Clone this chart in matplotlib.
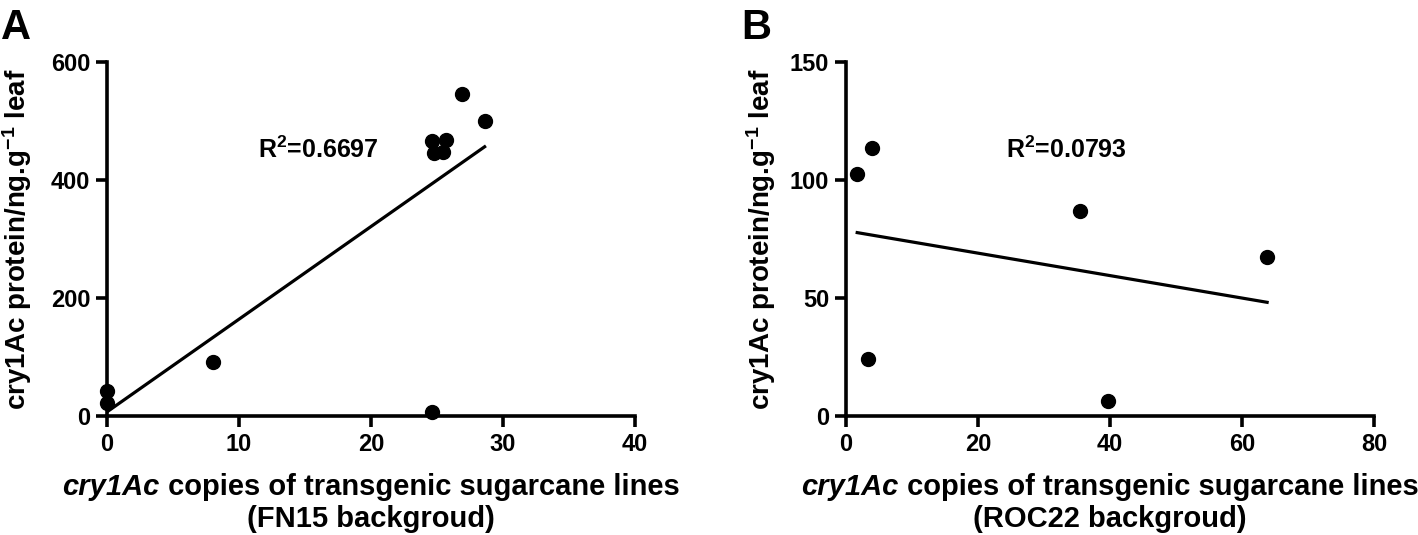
import matplotlib
matplotlib.use("Agg")
import matplotlib.pyplot as plt
import numpy as np

plt.rcParams['font.family'] = ['Liberation Sans', 'DejaVu Sans']
plt.rcParams['font.weight'] = 'bold'
plt.rcParams['mathtext.fontset'] = 'custom'
plt.rcParams['mathtext.rm'] = 'Liberation Sans:bold'
plt.rcParams['mathtext.it'] = 'Liberation Sans:italic:bold'
plt.rcParams['mathtext.bf'] = 'Liberation Sans:bold'

# panel A: FN15 background
fn15_copies = [0, 0, 8.0, 24.6, 24.6, 25.7, 24.8, 25.45, 26.85, 28.6]
fn15_protein = [21.5, 43, 91, 6, 466, 468, 445, 448, 545, 500]
fn15_r2 = "0.6697"

# panel B: ROC22 background
roc22_copies = [1.7, 4.0, 3.4, 39.7, 35.5, 63.8]
roc22_protein = [102.7, 113.4, 24.3, 6.3, 86.8, 67.2]
roc22_r2 = "0.0793"

ylabel = r"cry1Ac protein/ng.g$^{\mathbf{-1}}$ leaf"
gene = "cry1Ac"
xlabel_rest = " copies of transgenic sugarcane lines"

fig = plt.figure(figsize=(14.18, 5.35), dpi=100)
renderer = fig.canvas.get_renderer()

panels = [
    dict(rect=[0.0755, 0.2224, 0.3724, 0.6617], x=fn15_copies, y=fn15_protein,
         xlim=(0, 40), ylim=(0, 600), xticks=[0, 10, 20, 30, 40], yticks=[0, 200, 400, 600],
         bg="FN15", r2=fn15_r2, r2pos=(11.4, 451), letter="A", lx=0.001, ylx=-0.138),
    dict(rect=[0.5966, 0.2224, 0.3724, 0.6617], x=roc22_copies, y=roc22_protein,
         xlim=(0, 80), ylim=(0, 150), xticks=[0, 20, 40, 60, 80], yticks=[0, 50, 100, 150],
         bg="ROC22", r2=roc22_r2, r2pos=(24.2, 113), letter="B", lx=0.523, ylx=-0.129),
]

FS_LAB = 21
for p in panels:
    ax = fig.add_axes(p["rect"])
    x = np.array(p["x"])
    y = np.array(p["y"])
    ax.plot(x, y, 'o', color='black', ms=10, clip_on=False, zorder=3)
    k, b = np.polyfit(x, y, 1)
    xs = np.array([x.min(), x.max()])
    ax.plot(xs, k * xs + b, color='black', lw=2.3)
    ax.set_xlim(*p["xlim"])
    ax.set_ylim(*p["ylim"])
    ax.set_xticks(p["xticks"])
    ax.set_yticks(p["yticks"])
    for s in ['top', 'right']:
        ax.spines[s].set_visible(False)
    for s in ['left', 'bottom']:
        ax.spines[s].set_linewidth(2.6)
    ax.tick_params(width=2.6, length=8, labelsize=17, pad=4)
    for lab in ax.get_xticklabels() + ax.get_yticklabels():
        lab.set_fontweight('bold')
    ax.set_ylabel(ylabel, fontsize=20, fontweight='bold')
    ax.yaxis.set_label_coords(p["ylx"], 0.5)
    ax.text(p["r2pos"][0], p["r2pos"][1], r"R$^{\mathbf{2}}$=" + p["r2"], fontsize=18,
            fontweight='bold', va='center', ha='left')
    fig.text(p["lx"], 0.985, p["letter"], fontsize=30, fontweight='bold', va='top')

    # two-part x label: italic gene name + upright rest, centred under the axis
    cx = p["rect"][0] + p["rect"][2] / 2
    t1 = fig.text(0, 0.0748, gene, fontsize=FS_LAB, fontweight='bold', fontstyle='italic',
                  va='baseline', ha='left')
    t2 = fig.text(0, 0.0748, xlabel_rest, fontsize=FS_LAB, fontweight='bold',
                  va='baseline', ha='left')
    w1 = t1.get_window_extent(renderer).width / fig.bbox.width
    w2 = t2.get_window_extent(renderer).width / fig.bbox.width
    start = cx - (w1 + w2) / 2
    t1.set_x(start)
    t2.set_x(start + w1)
    fig.text(cx, 0.015, "(" + p["bg"] + " backgroud)", fontsize=FS_LAB, fontweight='bold',
             va='baseline', ha='center')

fig.savefig("out.png", dpi=100)
